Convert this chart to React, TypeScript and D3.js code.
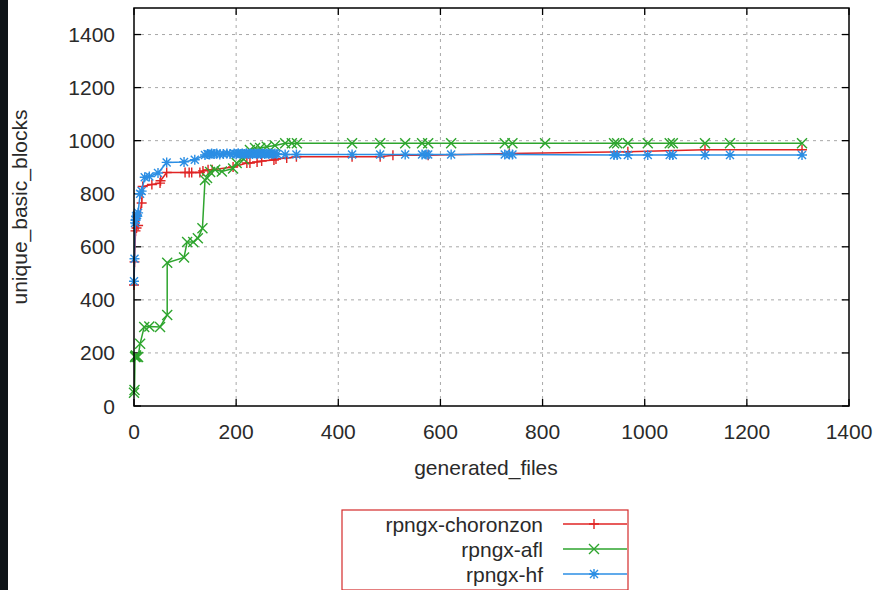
import React, { useEffect, useRef } from 'react';
import * as d3 from 'd3';

const xTicks = [0, 200, 400, 600, 800, 1000, 1200, 1400];
const yTicks = [0, 200, 400, 600, 800, 1000, 1200, 1400];
const seriesNames = ['rpngx-choronzon', 'rpngx-afl', 'rpngx-hf'];

// [generated_files, unique_basic_blocks]
const choronzon: [number, number][] = [
  [0, 456], [1, 543], [3, 660], [5, 671], [8, 680], [15, 765], [17, 827], [35, 835],
  [51, 840], [52, 849], [64, 880], [100, 880], [108, 880], [113, 880], [129, 880],
  [135, 886], [145, 890], [153, 890], [194, 901], [221, 916], [227, 916], [241, 920],
  [250, 923], [274, 927], [278, 931], [299, 935], [318, 939], [427, 939], [482, 939],
  [507, 945], [576, 945], [735, 952], [967, 958], [1118, 966], [1308, 966],
];

const afl: [number, number][] = [
  [0, 50], [1, 60], [2, 185], [3, 188], [4, 190], [5, 185], [8, 185], [12, 235],
  [20, 298], [30, 300], [51, 298], [65, 343], [65, 540], [98, 560], [104, 618],
  [116, 618], [125, 632], [134, 670], [139, 852], [143, 859], [149, 882], [159, 890],
  [172, 884], [194, 895], [201, 916], [215, 930], [227, 965], [237, 972], [247, 972],
  [260, 977], [276, 982], [296, 990], [309, 990], [319, 990], [427, 990], [482, 990],
  [531, 990], [564, 990], [576, 990], [621, 990], [726, 990], [741, 990], [805, 990],
  [940, 990], [946, 990], [967, 990], [1006, 990], [1049, 990], [1055, 990],
  [1118, 990], [1167, 990], [1308, 990],
];

const hf: [number, number][] = [
  [0, 470], [1, 555], [2, 690], [3, 700], [4, 715], [6, 720], [8, 728], [12, 800],
  [15, 810], [21, 862], [30, 865], [47, 878], [64, 918], [98, 920], [119, 928],
  [139, 946], [144, 950], [148, 948], [152, 952], [157, 950], [162, 952], [168, 948],
  [175, 950], [182, 952], [188, 950], [196, 952], [200, 950], [204, 953], [208, 950],
  [212, 952], [216, 950], [220, 953], [224, 950], [228, 952], [232, 950], [236, 953],
  [240, 950], [244, 952], [248, 950], [252, 953], [256, 950], [260, 952], [264, 950],
  [268, 952], [272, 950], [276, 952], [280, 950], [296, 948], [318, 948], [427, 948],
  [482, 948], [531, 948], [564, 948], [572, 948], [576, 948], [621, 948], [726, 948],
  [735, 948], [741, 948], [940, 946], [946, 946], [967, 946], [1006, 946], [1049, 946],
  [1055, 946], [1118, 946], [1167, 946], [1308, 946],
];

const colors = ['#e02424', '#2ea52e', '#2b8ee4'];
const markers = [
  'M-5,0H5M0,-5V5',
  'M-5,-5L5,5M-5,5L5,-5',
  'M-5,0H5M0,-5V5M-4,-4L4,4M-4,4L4,-4',
];
const font = '"Liberation Sans", Arial, sans-serif';

export default function App() {
  const ref = useRef<SVGSVGElement>(null);

  useEffect(() => {
    const svg = d3.select(ref.current);
    svg.selectAll('*').remove();
    const W = 879;
    const H = 590;
    const left = 134, right = 849, top = 8, bottom = 406;

    svg.append('rect').attr('width', W).attr('height', H).attr('fill', '#fff');
    svg.append('rect').attr('width', 8).attr('height', H).attr('fill', '#0f1418');

    const x = d3.scaleLinear().domain([0, 1400]).range([left, right]);
    const y = d3.scaleLinear().domain([0, 1500]).range([bottom, top]);

    // grid
    const grid = svg.append('g')
      .attr('stroke', '#a8a8a8')
      .attr('stroke-width', 1)
      .attr('stroke-dasharray', '3,4');
    xTicks.filter(t => t > 0 && t < 1400).forEach(t => {
      grid.append('line')
        .attr('x1', x(t)).attr('x2', x(t))
        .attr('y1', bottom).attr('y2', top);
    });
    yTicks.filter(t => t > 0).forEach(t => {
      grid.append('line')
        .attr('x1', left).attr('x2', right)
        .attr('y1', y(t)).attr('y2', y(t));
    });

    // ticks (mirrored, inward)
    const ticks = svg.append('g').attr('stroke', '#000').attr('stroke-width', 1.3);
    xTicks.forEach(t => {
      ticks.append('line').attr('x1', x(t)).attr('x2', x(t)).attr('y1', bottom).attr('y2', bottom - 7);
      ticks.append('line').attr('x1', x(t)).attr('x2', x(t)).attr('y1', top).attr('y2', top + 7);
    });
    yTicks.forEach(t => {
      ticks.append('line').attr('x1', left).attr('x2', left + 7).attr('y1', y(t)).attr('y2', y(t));
      ticks.append('line').attr('x1', right).attr('x2', right - 7).attr('y1', y(t)).attr('y2', y(t));
    });

    // tick labels
    const labels = svg.append('g')
      .attr('font-family', font)
      .attr('font-size', 21)
      .attr('fill', '#2a2a2a');
    xTicks.forEach(t => {
      labels.append('text')
        .attr('x', x(t)).attr('y', 439)
        .attr('text-anchor', 'middle')
        .text(t);
    });
    yTicks.forEach(t => {
      labels.append('text')
        .attr('x', 115).attr('y', y(t) + 7.5)
        .attr('text-anchor', 'end')
        .text(t);
    });

    labels.append('text')
      .attr('x', 486).attr('y', 475)
      .attr('text-anchor', 'middle')
      .text('generated_files');
    labels.append('text')
      .attr('transform', `translate(27,${(top + bottom) / 2}) rotate(-90)`)
      .attr('text-anchor', 'middle')
      .text('unique_basic_blocks');

    // series
    const line = d3.line<[number, number]>()
      .x(d => x(d[0]))
      .y(d => y(d[1]));
    [choronzon, afl, hf].forEach((data, i) => {
      const g = svg.append('g');
      g.append('path')
        .attr('d', line(data))
        .attr('fill', 'none')
        .attr('stroke', colors[i])
        .attr('stroke-width', 1.5);
      g.selectAll('.pt')
        .data(data)
        .enter()
        .append('path')
        .attr('d', markers[i])
        .attr('transform', d => `translate(${x(d[0])},${y(d[1])})`)
        .attr('fill', 'none')
        .attr('stroke', colors[i])
        .attr('stroke-width', 1.4);
    });

    // border
    svg.append('rect')
      .attr('x', left).attr('y', top)
      .attr('width', right - left).attr('height', bottom - top)
      .attr('fill', 'none')
      .attr('stroke', '#000')
      .attr('stroke-width', 1.5);

    // legend
    const key = svg.append('g');
    key.append('rect')
      .attr('x', 342).attr('y', 510)
      .attr('width', 286).attr('height', 80)
      .attr('fill', 'none')
      .attr('stroke', '#d42a2a')
      .attr('stroke-width', 1.2);
    const rowY = [524, 549, 574];
    seriesNames.forEach((name, i) => {
      key.append('text')
        .attr('x', 543).attr('y', rowY[i] + 7.5)
        .attr('text-anchor', 'end')
        .attr('font-family', font)
        .attr('font-size', 21)
        .attr('fill', '#2a2a2a')
        .text(name);
      key.append('line')
        .attr('x1', 563).attr('x2', 627)
        .attr('y1', rowY[i]).attr('y2', rowY[i])
        .attr('stroke', colors[i])
        .attr('stroke-width', 1.5);
      key.append('path')
        .attr('d', markers[i])
        .attr('transform', `translate(594,${rowY[i]})`)
        .attr('fill', 'none')
        .attr('stroke', colors[i])
        .attr('stroke-width', 1.4);
    });
  }, []);

  return (
    <svg ref={ref} width={879} height={590}
      style={{ position: 'absolute', left: 0, top: 0, display: 'block' }} />
  );
}
